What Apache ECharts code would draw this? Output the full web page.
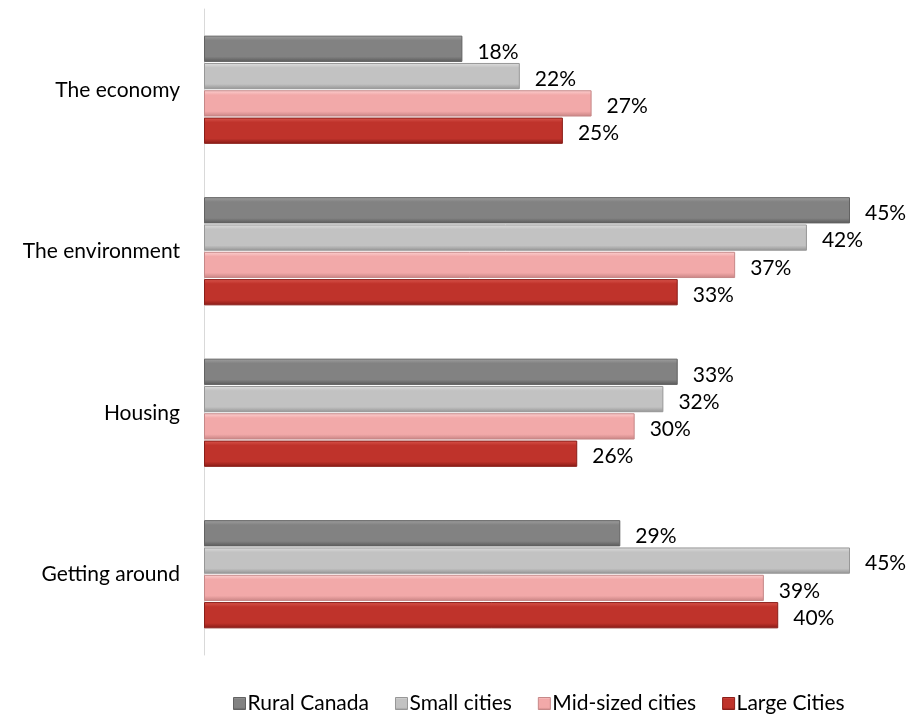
<!DOCTYPE html>
<html>
<head>
<meta charset="utf-8">
<script src="https://cdn.jsdelivr.net/npm/echarts@6/dist/echarts.min.js"></script>
<style>
  html, body { margin: 0; padding: 0; background: #ffffff; }
  #chart { width: 910px; height: 715px; }
</style>
</head>
<body>
<div id="chart"></div>
<script>
// Survey categories (top to bottom) and the share for each community type
const categories = ['The economy', 'The environment', 'Housing', 'Getting around'];
const seriesNames = ['Rural Canada', 'Small cities', 'Mid-sized cities', 'Large Cities'];
const ruralCanada = [18, 45, 33, 29];
const smallCities = [22, 42, 32, 45];
const midSizedCities = [27, 37, 30, 39];
const largeCities = [25, 33, 26, 40];

const FONT = 'Lato, "Open Sans", sans-serif';

// Bevelled look: light top edge, body, darker bottom edge
function bevel(top, mid, bottom) {
  return new echarts.graphic.LinearGradient(0, 0, 0, 1, [
    { offset: 0, color: top },
    { offset: 0.18, color: mid },
    { offset: 0.8, color: mid },
    { offset: 1, color: bottom }
  ]);
}

const palettes = [
  { fill: bevel('#a0a0a0', '#828282', '#585858'), border: '#626262' },
  { fill: bevel('#dedede', '#c2c2c2', '#939393'), border: '#979797' },
  { fill: bevel('#fcd2d2', '#f2a9a9', '#c78282'), border: '#c68888' },
  { fill: bevel('#d9564d', '#bf332b', '#861a16'), border: '#8a1e19' }
];

const values = [ruralCanada, smallCities, midSizedCities, largeCities];

const series = seriesNames.map((name, i) => ({
  name: name,
  type: 'bar',
  data: values[i],
  barGap: '4%',
  barCategoryGap: '33%',
  itemStyle: { color: palettes[i].fill, borderColor: palettes[i].border, borderWidth: 1 },
  label: {
    show: true,
    position: 'right',
    distance: 15,
    offset: [0, 3],
    formatter: '{c}%',
    color: '#000',
    fontFamily: FONT,
    fontSize: 21
  }
}));

const chart = echarts.init(document.getElementById('chart'), null, { renderer: 'canvas' });
chart.setOption({
  animation: false,
  grid: { left: 204, right: 60, top: 9, bottom: 60, containLabel: false },
  legend: {
    bottom: -4,
    left: 228,
    itemWidth: 12,
    itemHeight: 12,
    itemGap: 26,
    icon: 'rect',
    textStyle: { fontFamily: FONT, fontSize: 21, color: '#000', padding: [0, 0, 0, -3] },
    data: seriesNames.map((n, i) => ({
      name: n,
      itemStyle: { color: palettes[i].fill, borderColor: palettes[i].border, borderWidth: 1 }
    }))
  },
  xAxis: {
    type: 'value',
    min: 0,
    max: 45,
    show: false
  },
  yAxis: {
    type: 'category',
    inverse: true,
    data: categories,
    axisLine: { show: true, lineStyle: { color: '#d9d9d9', width: 1 } },
    axisTick: { show: false },
    axisLabel: { fontFamily: FONT, fontSize: 21, color: '#000', margin: 24 }
  },
  series: series
});
</script>
</body>
</html>
